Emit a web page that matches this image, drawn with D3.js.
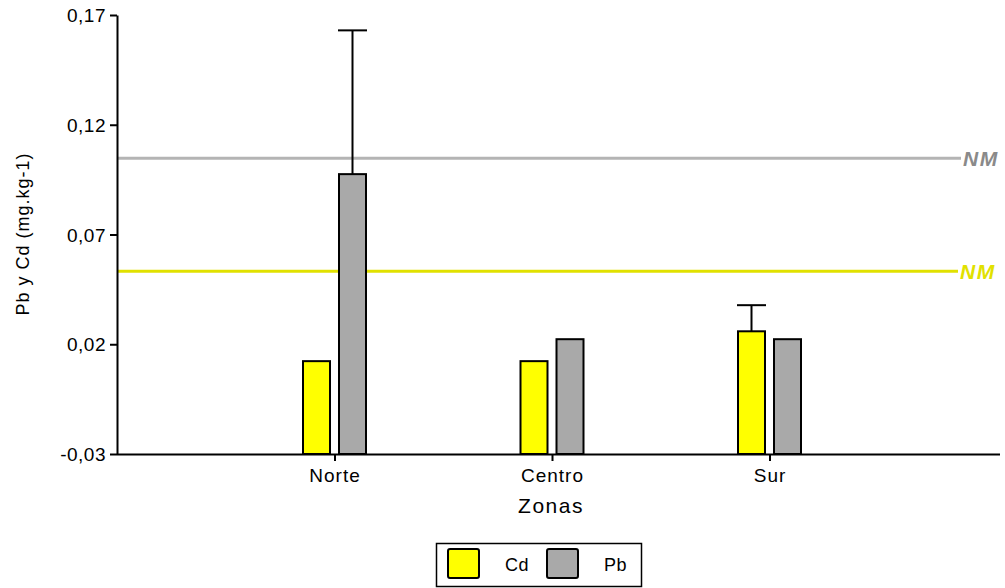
<!DOCTYPE html>
<html>
<head>
<meta charset="utf-8">
<script src="https://cdn.jsdelivr.net/npm/d3@7"></script>
<style>
  html, body { margin: 0; padding: 0; background: #fff; }
  svg { display: block; font-family: "Liberation Sans", Arial, sans-serif; }
</style>
</head>
<body>
<svg id="chart" width="1005" height="588"></svg>
<script>
// Zones and mean concentrations (mg.kg-1)
const zonas = ["Norte", "Centro", "Sur"];
const series = ["Cd", "Pb"];
const cdValues = [0.0123, 0.0123, 0.0259];
const pbValues = [0.0975, 0.0223, 0.0223];
// Upper error bar ends (null = none drawn)
const cdErrorTop = [null, null, 0.0378];
const pbErrorTop = [0.163, null, null];
// Reference limits (NM)
const nmPb = 0.1047;
const nmCd = 0.0533;
const yTicks = [-0.03, 0.02, 0.07, 0.12, 0.17];

const colors = { Cd: "#ffff00", Pb: "#a9a9a9" };

const svg = d3.select("#chart");
const plotLeft = 117, plotTop = 15, plotBottom = 454, plotRight = 1000;

const y = d3.scaleLinear().domain([-0.03, 0.17]).range([plotBottom, plotTop]);
const x = d3.scalePoint().domain(zonas).range([plotLeft, 987]).padding(1);
const sub = d3.scaleBand().domain(series).range([-31.5, 31.5]).paddingInner(0.25).paddingOuter(0);

const fmt = v => d3.format(".2f")(v).replace(".", ",").replace("\u2212", "-");

// Reference lines
svg.append("line").attr("x1", plotLeft).attr("x2", 961)
  .attr("y1", y(nmPb)).attr("y2", y(nmPb))
  .attr("stroke", "#b4b4b4").attr("stroke-width", 3);
svg.append("text").attr("x", 963).attr("y", y(nmPb) + 8)
  .attr("font-size", 21).attr("font-weight", "bold").attr("font-style", "italic")
  .attr("letter-spacing", 1.5).attr("fill", "#8a8a8a").text("NM");
svg.append("line").attr("x1", plotLeft).attr("x2", 958)
  .attr("y1", y(nmCd)).attr("y2", y(nmCd))
  .attr("stroke", "#e1e100").attr("stroke-width", 3);
svg.append("text").attr("x", 960).attr("y", y(nmCd) + 8)
  .attr("font-size", 21).attr("font-weight", "bold").attr("font-style", "italic")
  .attr("letter-spacing", 1.5).attr("fill", "#e1e100").text("NM");

// Bars
const rows = [];
zonas.forEach((z, i) => {
  rows.push({ zona: z, s: "Cd", v: cdValues[i], err: cdErrorTop[i] });
  rows.push({ zona: z, s: "Pb", v: pbValues[i], err: pbErrorTop[i] });
});

const g = svg.append("g");
// Error bars (drawn first so the bar outline covers the stem base)
rows.filter(d => d.err != null).forEach(d => {
  const cx = x(d.zona) + sub(d.s) + sub.bandwidth() / 2;
  g.append("line").attr("x1", cx).attr("x2", cx)
    .attr("y1", y(d.v)).attr("y2", y(d.err))
    .attr("stroke", "#000").attr("stroke-width", 2);
  g.append("line")
    .attr("x1", x(d.zona) + sub(d.s) - 1).attr("x2", x(d.zona) + sub(d.s) + sub.bandwidth() + 1)
    .attr("y1", y(d.err)).attr("y2", y(d.err))
    .attr("stroke", "#000").attr("stroke-width", 2);
});
g.selectAll("rect.bar").data(rows).join("rect")
  .attr("class", "bar")
  .attr("x", d => x(d.zona) + sub(d.s))
  .attr("y", d => y(d.v))
  .attr("width", sub.bandwidth())
  .attr("height", d => y(-0.03) - y(d.v))
  .attr("fill", d => colors[d.s])
  .attr("stroke", "#000").attr("stroke-width", 2);

// Y axis
const yAxis = svg.append("g").attr("transform", `translate(${plotLeft},0)`)
  .call(d3.axisLeft(y).tickValues(yTicks).tickFormat(fmt).tickSize(7).tickSizeOuter(0));
yAxis.select(".domain").attr("stroke-width", 2);
yAxis.selectAll(".tick line").attr("stroke-width", 2);
yAxis.selectAll(".tick text").attr("font-size", 19).attr("fill", "#000")
  .attr("font-family", "Liberation Sans, Arial, sans-serif")
  .attr("letter-spacing", 0.5).attr("x", -11).attr("dy", "0.35em");

// X axis
const xAxis = svg.append("g").attr("transform", `translate(0,${plotBottom})`)
  .call(d3.axisBottom(x).tickSize(7).tickSizeOuter(0));
xAxis.select(".domain").attr("d", `M${plotLeft},0.5H${plotRight}`).attr("stroke-width", 2);
xAxis.selectAll(".tick line").attr("stroke-width", 2);
xAxis.selectAll(".tick text").attr("font-size", 19).attr("fill", "#000")
  .attr("font-family", "Liberation Sans, Arial, sans-serif")
  .attr("letter-spacing", 1).attr("y", 28).attr("dy", 0);

// Axis titles
svg.append("text").attr("x", 551).attr("y", 513).attr("text-anchor", "middle")
  .attr("font-size", 21).attr("letter-spacing", 1.5).text("Zonas");
svg.append("text").attr("transform", "translate(29,234) rotate(-90)")
  .attr("text-anchor", "middle").attr("font-size", 18).attr("letter-spacing", 1)
  .text("Pb y Cd (mg.kg-1)");

// Legend
const lg = svg.append("g");
lg.append("rect").attr("x", 436.5).attr("y", 543.5).attr("width", 205).attr("height", 43)
  .attr("fill", "#fff").attr("stroke", "#000").attr("stroke-width", 1.5);
const legendX = [448, 547];
const legendTextX = [505, 604];
series.forEach((s, i) => {
  lg.append("rect").attr("x", legendX[i]).attr("y", 549).attr("width", 31).attr("height", 29)
    .attr("rx", 2).attr("fill", colors[s]).attr("stroke", "#000").attr("stroke-width", 2);
  lg.append("text").attr("x", legendTextX[i]).attr("y", 571).attr("font-size", 18)
    .attr("letter-spacing", 0.5).text(s);
});
</script>
</body>
</html>
